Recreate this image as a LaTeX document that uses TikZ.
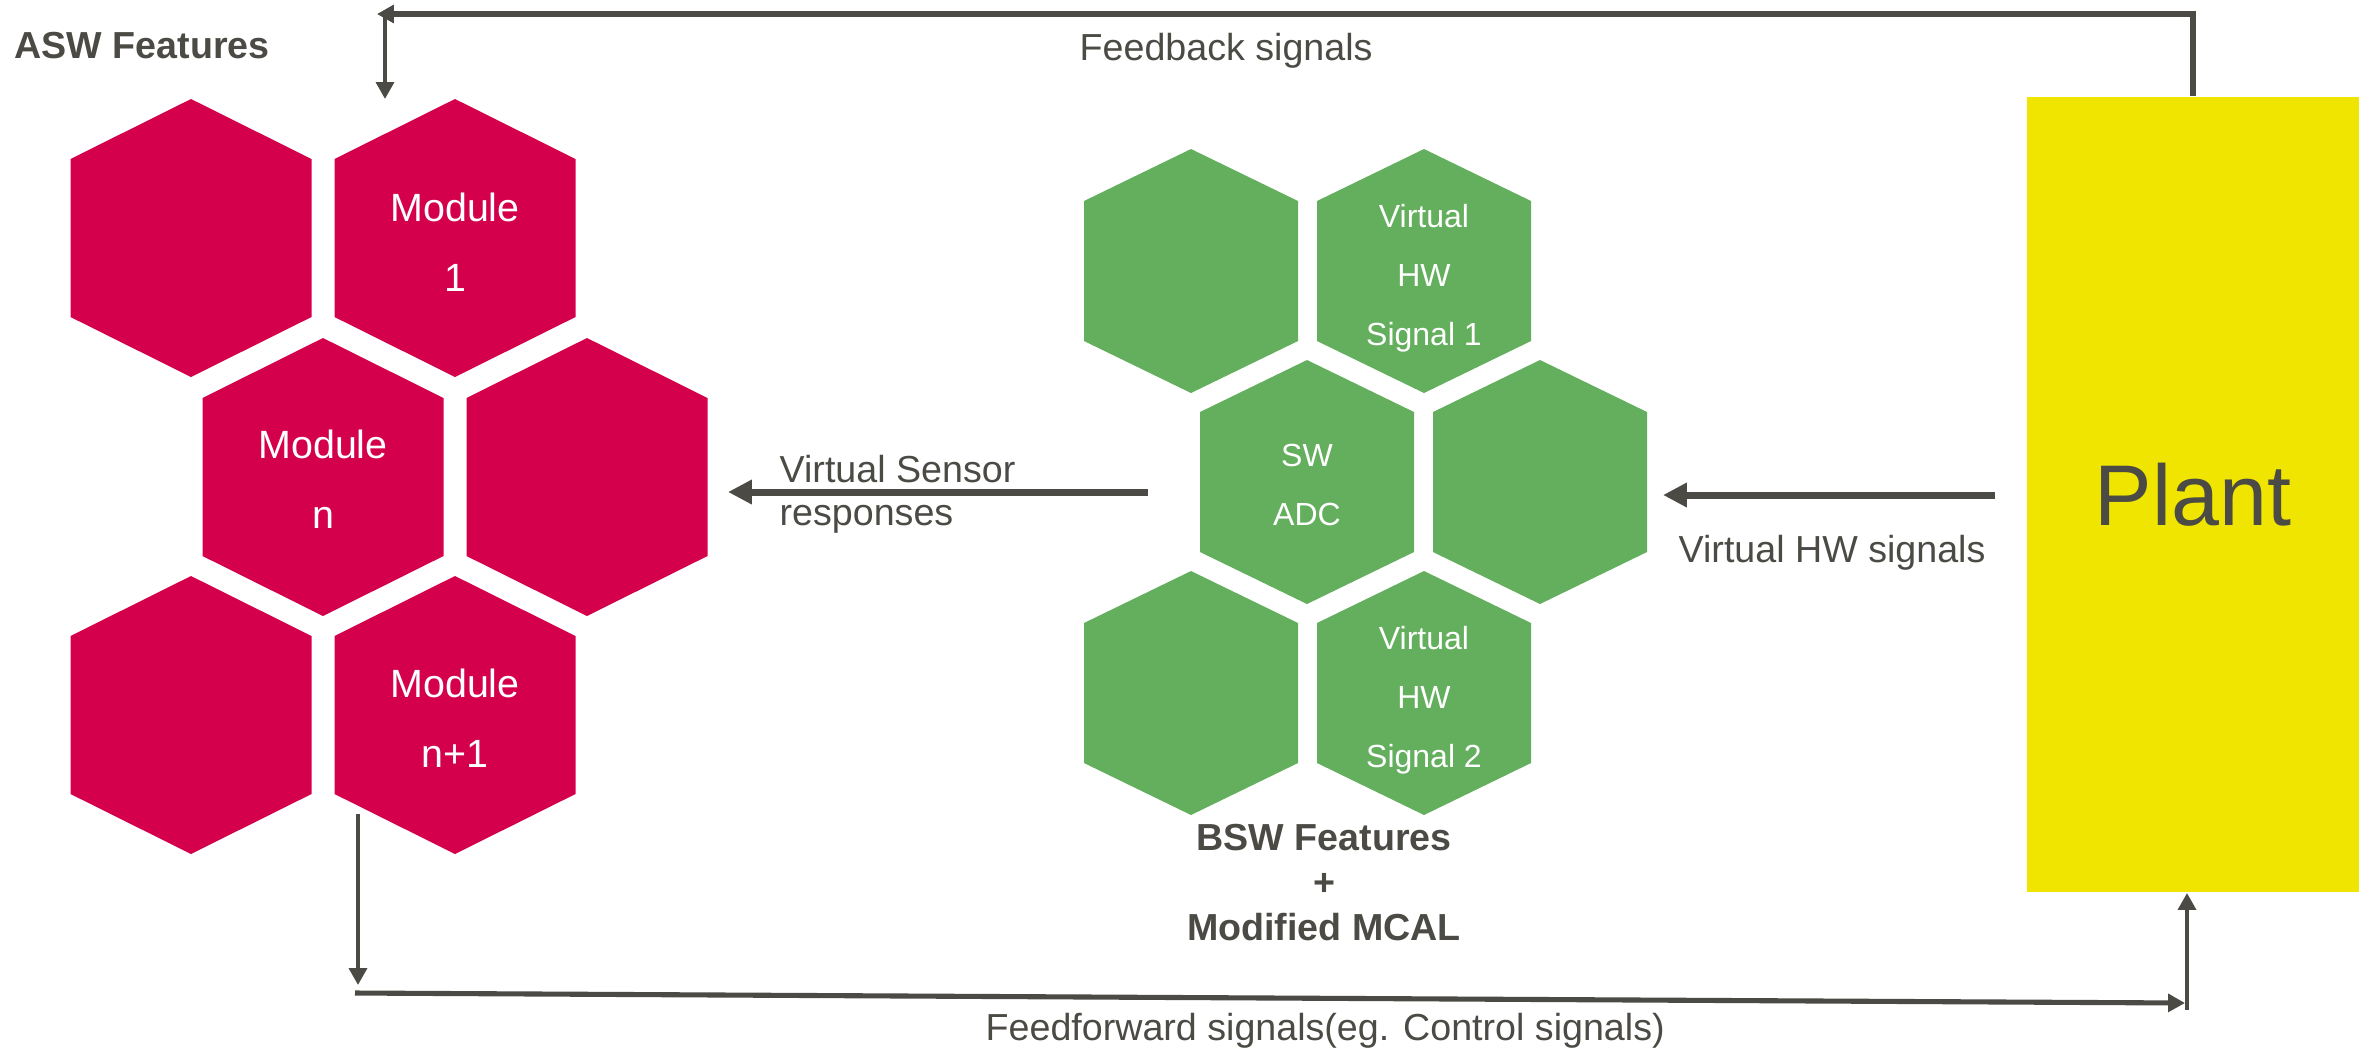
\documentclass[tikz,border=0pt]{standalone}
\usepackage{fontspec}
\setmainfont{Liberation Sans}
\usepackage{xcolor}
\usepackage{tikz}
\usetikzlibrary{arrows.meta}
\definecolor{aswred}{HTML}{D4004B}
\definecolor{bswgreen}{HTML}{63AF5D}
\definecolor{plantyellow}{HTML}{F0E500}
\definecolor{linegray}{HTML}{4B4A44}

\begin{document}
\begin{tikzpicture}[x=0.01cm,y=-0.01cm,
  redhex/.style={fill=aswred},
  greenhex/.style={fill=bswgreen},
  modtext/.style={text=white,align=center,inner sep=0pt,font=\fontsize{11.2}{19.9}\selectfont},
  sigtext/.style={text=white,align=center,inner sep=0pt,font=\fontsize{9.1}{16.8}\selectfont},
  flowtext/.style={text=linegray,inner sep=0pt,font=\fontsize{10.7}{12.2}\selectfont},
  headtext/.style={text=linegray,inner sep=0pt,font=\bfseries\fontsize{10.7}{12.8}\selectfont},
  sigwire/.style={draw=linegray,line width=2pt,-{Triangle[length=6.8pt,width=6.6pt]}},
  fbwire/.style={draw=linegray,line width=1.45pt,-{Triangle[length=4.8pt,width=5pt]}},
  thinwire/.style={draw=linegray,line width=1.4pt,-{Triangle[length=4.8pt,width=5pt]}}]
\useasboundingbox (0,0) rectangle (2366,1047);
\fill[redhex] (191,99) -- ++(120.5,60) -- ++(0,158) -- ++(-120.5,60) -- ++(-120.5,-60) -- ++(0,-158) -- cycle;
\fill[redhex] (455,99) -- ++(120.5,60) -- ++(0,158) -- ++(-120.5,60) -- ++(-120.5,-60) -- ++(0,-158) -- cycle;
\fill[redhex] (323,338) -- ++(120.5,60) -- ++(0,158) -- ++(-120.5,60) -- ++(-120.5,-60) -- ++(0,-158) -- cycle;
\fill[redhex] (587,338) -- ++(120.5,60) -- ++(0,158) -- ++(-120.5,60) -- ++(-120.5,-60) -- ++(0,-158) -- cycle;
\fill[redhex] (191,576) -- ++(120.5,60) -- ++(0,158) -- ++(-120.5,60) -- ++(-120.5,-60) -- ++(0,-158) -- cycle;
\fill[redhex] (455,576) -- ++(120.5,60) -- ++(0,158) -- ++(-120.5,60) -- ++(-120.5,-60) -- ++(0,-158) -- cycle;
\fill[greenhex] (1191,149) -- ++(107,52) -- ++(0,140) -- ++(-107,52) -- ++(-107,-52) -- ++(0,-140) -- cycle;
\fill[greenhex] (1424,149) -- ++(107,52) -- ++(0,140) -- ++(-107,52) -- ++(-107,-52) -- ++(0,-140) -- cycle;
\fill[greenhex] (1307,360) -- ++(107,52) -- ++(0,140) -- ++(-107,52) -- ++(-107,-52) -- ++(0,-140) -- cycle;
\fill[greenhex] (1540,360) -- ++(107,52) -- ++(0,140) -- ++(-107,52) -- ++(-107,-52) -- ++(0,-140) -- cycle;
\fill[greenhex] (1191,571) -- ++(107,52) -- ++(0,140) -- ++(-107,52) -- ++(-107,-52) -- ++(0,-140) -- cycle;
\fill[greenhex] (1424,571) -- ++(107,52) -- ++(0,140) -- ++(-107,52) -- ++(-107,-52) -- ++(0,-140) -- cycle;
\node[modtext] (mod1) at (455,242) {Module\\1};
\node[modtext] (modn) at (323,479) {Module\\n};
\node[modtext] (modn1) at (455,718) {Module\\n+1};
\node[sigtext] (vhw1) at (1424,278) {Virtual\\HW\\Signal 1};
\node[sigtext] (swadc) at (1307,485) {SW\\ADC};
\node[sigtext] (vhw2) at (1424,700) {Virtual\\HW\\Signal 2};
\node[fill=plantyellow,minimum width=3.32cm,minimum height=7.95cm,inner sep=0pt,text=linegray,font=\fontsize{24.5}{29}\selectfont] (plant) at (2193,494.5) {Plant};
\node[headtext,anchor=base west] (asw) at (14,58) {ASW Features};
\node[headtext,align=center] (bsw) at (1324,883) {BSW Features\\+\\Modified MCAL};
\node[flowtext,anchor=base west] (fbsig) at (1079,60) {Feedback signals};
\node[flowtext,anchor=west,align=left] (vssig) at (779,494) {Virtual Sensor\\responses};
\node[flowtext,anchor=base west] (hwsig) at (1678,562) {Virtual HW signals};
\node[flowtext,anchor=base west] (ffsig) at (985,1040) {Feedforward signals(eg. Control signals)};
\coordinate (fbtip) at (377,14);
\coordinate (fbturn) at (385,14);
\coordinate (fbdrop) at (385,99);
\coordinate (vsfrom) at (1148,492);
\coordinate (vsto) at (728,492);
\coordinate (hwfrom) at (1995,495);
\coordinate (hwto) at (1663,495);
\coordinate (fftop) at (358,814);
\coordinate (ffdrop) at (358,985);
\coordinate (ffleft) at (355,993);
\coordinate (ffright) at (2185,1003);
\coordinate (ffrise) at (2187,1010);
\draw[fbwire] (plant.north) |- (fbtip);
\draw[thinwire] (fbturn) -- (fbdrop);
\draw[sigwire] (vsfrom) -- (vsto);
\draw[sigwire] (hwfrom) -- (hwto);
\draw[thinwire] (fftop) -- (ffdrop);
\draw[fbwire] (ffleft) -- (ffright);
\draw[thinwire] (ffrise) -- (ffrise |- plant.south);
\end{tikzpicture}
\end{document}
